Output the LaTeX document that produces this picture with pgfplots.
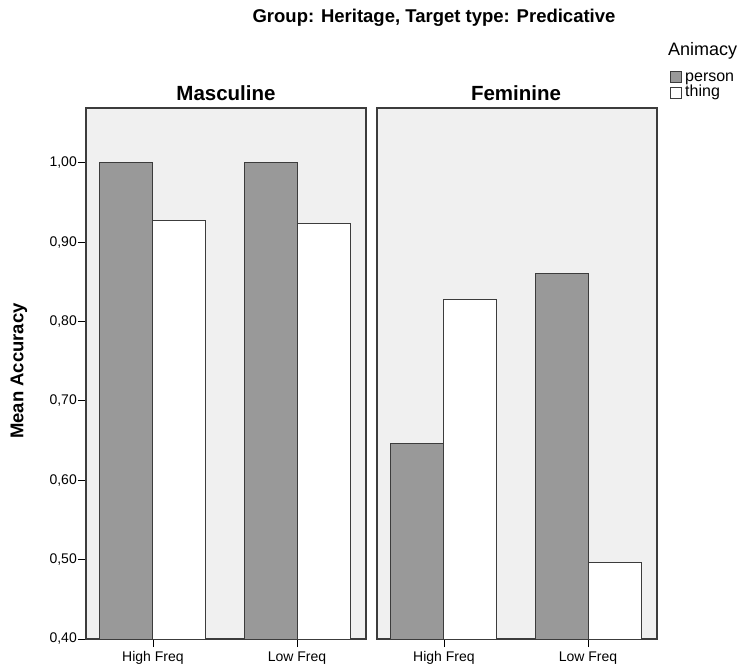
\documentclass[border=0pt]{standalone}
\usepackage{fontspec}
\setmainfont{Liberation Sans}
\usepackage{pgfplots}
\pgfplotsset{compat=1.18}
\definecolor{panelbg}{RGB}{240,240,240}
\definecolor{persongray}{RGB}{153,153,153}
\definecolor{edge}{RGB}{60,60,60}
\begin{document}
\begin{tikzpicture}[x=1pt,y=1pt]
\path[use as bounding box] (0pt,0pt) rectangle (739pt,670pt);
\pgfplotsset{panel/.style={
  scale only axis, width=280pt, height=531pt, anchor=south west,
  xmin=-0.465, xmax=1.479, ymin=0.40, ymax=1.069,
  axis background/.style={fill=panelbg},
  ybar, bar width=53pt,
  xtick={0,1}, xticklabels={High Freq,Low Freq},
  tick align=outside, major tick length=8pt,
  tick style={black, line width=0.9pt},
  axis line style={edge, line width=1.1pt},
  ticklabel style={font=\fontsize{14}{16}\selectfont},
  xticklabel style={inner sep=1pt, text height=11pt, text depth=3pt, yshift=-2pt},
  yticklabel style={inner sep=1pt},
  xtick pos=bottom, ytick pos=left,
  /pgf/number format/assume math mode=true,
  clip=true,
}}
\begin{axis}[panel, at={(86pt,31pt)},
  ytick={0.4,0.5,0.6,0.7,0.8,0.9,1.0},
  yticklabel style={/pgf/number format/.cd, fixed, fixed zerofill, precision=2, use comma},
  ]
\addplot[fill=persongray, draw=edge, line width=1pt, bar shift=-26.5pt] coordinates {(0,1.000) (1,1.000)};
\addplot[fill=white, draw=edge, line width=1pt, bar shift=26.5pt] coordinates {(0,0.927) (1,0.924)};
\end{axis}
\begin{axis}[panel, at={(377pt,31pt)}, ytick=\empty]
\addplot[fill=persongray, draw=edge, line width=1pt, bar shift=-26.5pt] coordinates {(0,0.646) (1,0.861)};
\addplot[fill=white, draw=edge, line width=1pt, bar shift=26.5pt] coordinates {(0,0.828) (1,0.496)};
\end{axis}
\node[font=\fontsize{18.5}{20}\selectfont\bfseries] at (434pt,652pt) {Group: Heritage, Target type: Predicative};
\node[font=\fontsize{20.5}{22}\selectfont\bfseries] at (226pt,577pt) {Masculine};
\node[font=\fontsize{20.5}{22}\selectfont\bfseries] at (516pt,577pt) {Feminine};
\node[font=\fontsize{18.5}{20}\selectfont\bfseries, rotate=90] at (19pt,299pt) {Mean Accuracy};
\node[font=\fontsize{18}{20}\selectfont, anchor=base west, inner sep=0pt] at (668pt,614pt) {Animacy};
\draw[edge, fill=persongray, line width=0.8pt] (670pt,588pt) rectangle (681pt,599pt);
\draw[edge, fill=white, line width=0.8pt] (670pt,572pt) rectangle (681pt,583pt);
\node[font=\fontsize{16}{18}\selectfont, anchor=base west, inner sep=0pt] at (685pt,588pt) {person};
\node[font=\fontsize{16}{18}\selectfont, anchor=base west, inner sep=0pt] at (685pt,573pt) {thing};
\end{tikzpicture}
\end{document}
